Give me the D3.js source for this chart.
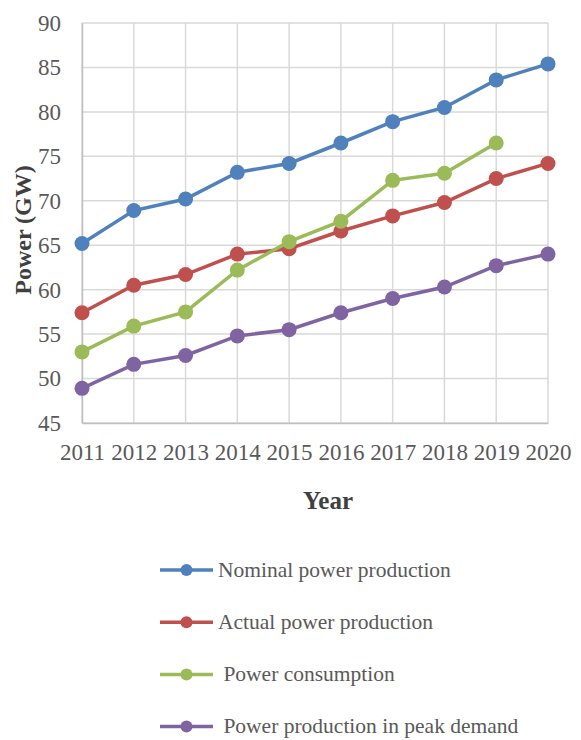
<!DOCTYPE html>
<html>
<head>
<meta charset="utf-8">
<script src="https://cdn.jsdelivr.net/npm/d3@7"></script>
<style>
  body { margin: 0; background: #fff; }
  text { font-family: "Liberation Serif", "Times New Roman", serif; }
</style>
</head>
<body>
<div id="canvas"></div>
<script>
const years = [2011, 2012, 2013, 2014, 2015, 2016, 2017, 2018, 2019, 2020];
const yTicks = [45, 50, 55, 60, 65, 70, 75, 80, 85, 90];

const nominal = [65.2, 68.9, 70.2, 73.2, 74.2, 76.5, 78.9, 80.5, 83.6, 85.4];
const actual = [57.4, 60.5, 61.7, 64.0, 64.6, 66.6, 68.3, 69.8, 72.5, 74.2];
const consumption = [53.0, 55.9, 57.5, 62.2, 65.4, 67.7, 72.3, 73.1, 76.5, null];
const peak = [48.9, 51.6, 52.6, 54.8, 55.5, 57.4, 59.0, 60.3, 62.7, 64.0];

const seriesNames = ["Nominal power production", "Actual power production", " Power consumption", " Power production in peak demand"];
const seriesColors = ["#4f81bd", "#c0504d", "#9bbb59", "#8064a2"];

function createGraph() {
    const margin = { top: 23, right: 33, bottom: 317, left: 82 },
        width = 581 - margin.left - margin.right,
        height = 740 - margin.top - margin.bottom;

    const root = d3.select("#canvas")
        .append("svg")
        .attr("width", 581)
        .attr("height", 740);

    const svg = root.append("g")
        .attr("transform", `translate(${margin.left},${margin.top})`);

    const x = d3.scalePoint()
        .domain(years)
        .range([0, width]);

    const y = d3.scaleLinear()
        .domain([45, 90])
        .range([height, 0]);

    // Grid
    svg.append("g")
        .selectAll("line")
        .data(yTicks)
        .join("line")
        .attr("x1", 0).attr("x2", width)
        .attr("y1", d => y(d)).attr("y2", d => y(d))
        .attr("stroke", "#d9d9d9")
        .attr("stroke-width", 1.5);

    svg.append("g")
        .selectAll("line")
        .data(years)
        .join("line")
        .attr("x1", d => x(d)).attr("x2", d => x(d))
        .attr("y1", 0).attr("y2", height)
        .attr("stroke", "#d9d9d9")
        .attr("stroke-width", 1.5);

    // Axes
    const xAxis = svg.append("g")
        .attr("transform", `translate(0,${height})`)
        .call(d3.axisBottom(x).tickSize(0).tickPadding(21));
    xAxis.select(".domain").attr("stroke", "#bfbfbf").attr("stroke-width", 1.5);
    xAxis.selectAll("text")
        .style("font-size", "23px")
        .style("fill", "#595959");

    const yAxis = svg.append("g")
        .call(d3.axisLeft(y).tickValues(yTicks).tickSize(0).tickPadding(21));
    yAxis.select(".domain").attr("stroke", "#bfbfbf").attr("stroke-width", 1.5);
    yAxis.selectAll("text")
        .style("font-size", "23px")
        .style("fill", "#595959");

    // Axis titles
    svg.append("text")
        .attr("transform", `translate(${-51},${height / 2 + 7}) rotate(-90)`)
        .attr("text-anchor", "middle")
        .style("font-size", "24px")
        .style("font-weight", "bold")
        .style("fill", "#404040")
        .text("Power (GW)");

    svg.append("text")
        .attr("x", width / 2 + 13)
        .attr("y", height + 86)
        .attr("text-anchor", "middle")
        .style("font-size", "25px")
        .style("font-weight", "bold")
        .style("fill", "#404040")
        .text("Year");

    // Lines and dots
    const allSeries = [nominal, actual, consumption, peak];
    const line = d3.line()
        .defined(d => d[1] != null)
        .x(d => x(d[0]))
        .y(d => y(d[1]));

    allSeries.forEach((vals, i) => {
        const pts = years.map((yr, j) => [yr, vals[j]]);
        svg.append("path")
            .datum(pts)
            .attr("fill", "none")
            .attr("stroke", seriesColors[i])
            .attr("stroke-width", 3.5)
            .attr("d", line);

        svg.append("g")
            .selectAll("circle")
            .data(pts.filter(d => d[1] != null))
            .join("circle")
            .attr("cx", d => x(d[0]))
            .attr("cy", d => y(d[1]))
            .attr("r", 7.5)
            .style("fill", seriesColors[i]);
    });

    // Legend
    const legend = root.append("g")
        .attr("transform", "translate(160,570)");

    legend.selectAll("g")
        .data(seriesNames)
        .join("g")
        .attr("transform", (d, i) => `translate(0,${i * 52.2})`)
        .call(g => {
            g.append("line")
                .attr("x1", 0).attr("x2", 53)
                .attr("stroke", (d, i) => seriesColors[i])
                .attr("stroke-width", 3.5);
            g.append("circle")
                .attr("cx", 26.5)
                .attr("r", 6)
                .style("fill", (d, i) => seriesColors[i]);
            g.append("text")
                .attr("x", 58)
                .attr("dy", "0.32em")
                .style("font-size", "21.5px")
                .style("fill", "#595959")
                .style("white-space", "pre")
                .text(d => d);
        });
}

createGraph();
</script>
</body>
</html>
